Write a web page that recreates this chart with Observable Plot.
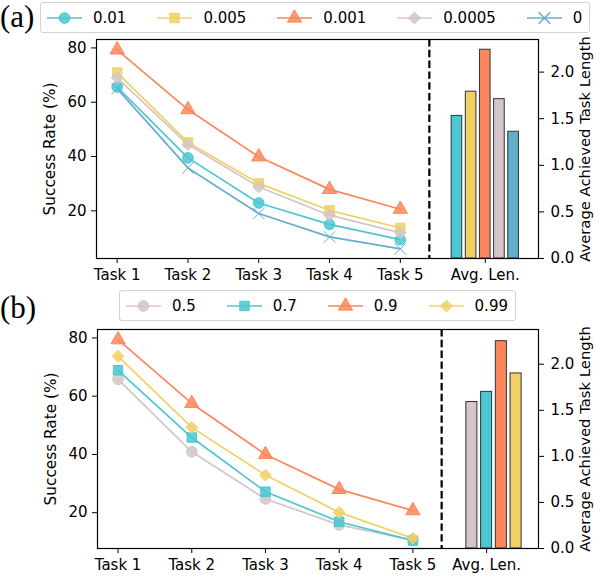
<!DOCTYPE html>
<html><head><meta charset="utf-8">
<script src="https://cdn.jsdelivr.net/npm/d3@7"></script>
<script src="https://cdn.jsdelivr.net/npm/@observablehq/plot@0.6"></script>
<style>
body{margin:0;background:#fff;}
#root{position:relative;width:596px;height:578px;overflow:hidden;font-family:"DejaVu Sans";color:#000;}
#root svg.panel text{font-family:"DejaVu Sans";}
.tag{position:absolute;left:0;font-family:"Liberation Serif";font-size:31px;line-height:34px;}
.legend{position:absolute;height:31px;border:1px solid #d3d3d3;border-radius:3px;background:#fff;display:flex;align-items:center;padding:0 7px 0 6px;gap:31px;font-size:15px;z-index:2;box-sizing:border-box;}
.item{display:flex;align-items:center;gap:11px;}
.item svg{display:block;overflow:visible;}
.panel{position:absolute;left:0;}
</style></head><body><div id="root"></div>
<script>
// ---------- shared labels ----------
const taskLabels = ["Task 1", "Task 2", "Task 3", "Task 4", "Task 5"];
const avgLabel = "Avg. Len.";
const yLabelLeft = "Success Rate (%)";
const yLabelRight = "Average Achieved Task Length";
const rightTicks = [0, 0.5, 1.0, 1.5, 2.0];
const leftTicks = [20, 40, 60, 80];

// ---------- panel (a) data ----------
const seriesA = ["0.01", "0.005", "0.001", "0.0005", "0"];
const rateA_0_01 = [65.6, 39.5, 22.9, 15.0, 9.4];
const rateA_0_005 = [70.9, 45.2, 30.1, 20.2, 13.7];
const rateA_0_001 = [79.3, 57.3, 39.9, 27.9, 20.6];
const rateA_0_0005 = [69.0, 44.4, 28.8, 18.4, 11.9];
const rateA_0 = [65.0, 35.8, 19.0, 10.4, 6.0];
const avgLenA = [1.53, 1.79, 2.24, 1.71, 1.36];

// ---------- panel (b) data ----------
const seriesB = ["0.5", "0.7", "0.9", "0.99"];
const rateB_0_5 = [65.8, 40.9, 24.7, 15.8, 10.6];
const rateB_0_7 = [68.9, 45.8, 27.2, 16.9, 10.4];
const rateB_0_9 = [79.4, 57.5, 40.0, 28.0, 20.7];
const rateB_0_99 = [73.7, 49.3, 32.9, 20.1, 11.2];
const avgLenB = [1.59, 1.70, 2.25, 1.90];

// ---------- styles ----------
const TEAL = "#4ac7d2", YELLOW = "#f0d166", ORANGE = "#fd875c", GREY = "#d3c5c9", BLUE = "#62afcb";
const colorsA = [TEAL, YELLOW, ORANGE, GREY, BLUE];
const symbolsA = ["circle", "square", "triangle", "diamond2", "times"];
const colorsB = [GREY, TEAL, ORANGE, YELLOW];
const symbolsB = ["circle", "square", "triangle", "diamond2"];

const symbolMap = {circle: d3.symbolCircle, square: d3.symbolSquare, triangle: d3.symbolTriangle, diamond2: d3.symbolDiamond2, times: d3.symbolTimes};
const R = 5.3;

function legend(series, colors, symbols, left, top) {
  const div = document.createElement("div");
  div.className = "legend";
  div.style.left = left + "px";
  div.style.top = top + "px";
  series.forEach((s, i) => {
    const c = colors[i];
    const stroked = symbols[i] === "times";
    const d = d3.symbol(symbolMap[symbols[i]], Math.PI * R * R)();
    const it = document.createElement("div");
    it.className = "item";
    it.innerHTML = `<svg width="35" height="14"><line x1="0" x2="35" y1="7" y2="7" stroke="${c}" stroke-width="1.7"/>` +
      `<path transform="translate(17.5,7)" d="${d}" fill="${stroked ? "none" : c}" fill-opacity="0.85" stroke="${c}" stroke-width="${stroked ? 1.6 : 1}"/></svg><span>${s}</span>`;
    div.appendChild(it);
  });
  return div;
}

function panel(cfg) {
  const {series, rates, avgLen, colors, symbols, xDomain, yDomain, rTop, avgPos, divider, marginLeft, height, marginBottom} = cfg;
  const [yLo, yHi] = yDomain;
  const toLeft = v => yLo + v * (yHi - yLo) / rTop;
  const fromLeft = y => (y - yLo) * rTop / (yHi - yLo);
  const rows = [];
  series.forEach((s, k) => rates[k].forEach((v, i) => rows.push({s, x: i, y: v})));
  const n = series.length, mid = Math.floor((n - 1) / 2), step = 0.2, bw = 0.15;
  const bars = series.map((s, k) => ({s, c: avgPos + (k - mid) * step, v: avgLen[k]}));
  const xTicks = taskLabels.map((_, i) => i).concat([avgPos]);
  const xLab = new Map(xTicks.map((t, i) => [t, i < taskLabels.length ? taskLabels[i] : avgLabel]));
  return Plot.plot({
    width: 596, height, marginLeft, marginRight: 58, marginTop: 6, marginBottom,
    style: {fontFamily: "DejaVu Sans", fontSize: "15px", background: "transparent"},
    x: {type: "linear", domain: xDomain},
    y: {domain: yDomain},
    color: {domain: series, range: colors},
    symbol: {domain: series, range: symbols},
    marks: [
      Plot.rect(bars, {x1: d => d.c - bw / 2, x2: d => d.c + bw / 2, y1: () => toLeft(0), y2: d => toLeft(d.v), fill: "s", stroke: "#333", strokeWidth: 1}),
      Plot.ruleX([divider], {stroke: "black", strokeWidth: 2.2, strokeDasharray: "7.4,3.4"}),
      Plot.line(rows, {x: "x", y: "y", z: "s", stroke: "s", strokeWidth: 1.7}),
      Plot.dot(rows, {x: "x", y: "y", symbol: "s", fill: "s", stroke: "s", r: R, fillOpacity: 0.85, strokeWidth: 1}),
      Plot.frame({stroke: "black", strokeWidth: 1.2}),
      Plot.axisY(leftTicks, {anchor: "left", tickSize: 5, tickPadding: 5, label: null, fontSize: 15}),
      Plot.axisY(rightTicks.map(toLeft), {anchor: "right", tickSize: 5, tickPadding: 7, label: null, fontSize: 15, tickFormat: y => d3.format(".1f")(fromLeft(y))}),
      Plot.axisX(xTicks, {tickSize: 5, tickPadding: 6, label: null, fontSize: 15, tickFormat: d => xLab.get(d)}),
      Plot.text([yLabelLeft], {text: d => d, frameAnchor: "left", textAnchor: "middle", dx: -46, rotate: -90, fontSize: 15.3}),
      Plot.text([yLabelRight], {text: d => d, frameAnchor: "right", textAnchor: "middle", dx: 47, rotate: -90, fontSize: 14.8})
    ]
  });
}

const root = document.getElementById("root");

function tag(txt, top) {
  const d = document.createElement("div");
  d.className = "tag"; d.textContent = txt; d.style.top = top + "px";
  root.appendChild(d);
}

// panel (a)
const svgA = panel({
  series: seriesA, rates: [rateA_0_01, rateA_0_005, rateA_0_001, rateA_0_0005, rateA_0],
  avgLen: avgLenA, colors: colorsA, symbols: symbolsA,
  xDomain: [-0.292, 5.952], yDomain: [2.45, 83.1], rTop: 2.35, avgPos: 5.2, divider: 4.41,
  marginLeft: 96, height: 254, marginBottom: 29
});
svgA.classList.add("panel"); svgA.style.top = "33px";
root.appendChild(svgA);

// panel (b)
const svgB = panel({
  series: seriesB, rates: [rateB_0_5, rateB_0_7, rateB_0_9, rateB_0_99],
  avgLen: avgLenB, colors: colorsB, symbols: symbolsB,
  xDomain: [-0.279, 5.704], yDomain: [7.7, 82.9], rTop: 2.377, avgPos: 5.0, divider: 4.39,
  marginLeft: 97, height: 255, marginBottom: 30
});
svgB.classList.add("panel"); svgB.style.top = "323px";
root.appendChild(svgB);

tag("(a)", 0);
tag("(b)", 291);
root.appendChild(legend(seriesA, colorsA, symbolsA, 40, 2));
root.appendChild(legend(seriesB, colorsB, symbolsB, 119, 290));
</script>
</body></html>
